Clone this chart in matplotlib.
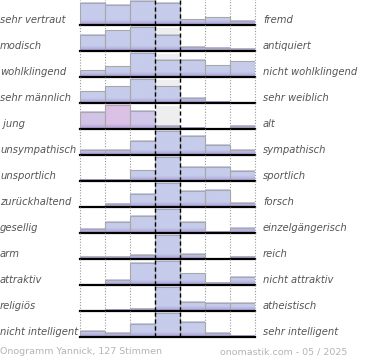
import numpy as np
import matplotlib.pyplot as plt
from matplotlib.patches import Rectangle
from matplotlib.transforms import blended_transform_factory
from matplotlib.colors import to_rgb

# onogram: 13 word pairs, 7 steps each
left_labels = ['sehr vertraut', 'modisch', 'wohlklingend', 'sehr männlich', ' jung',
               'unsympathisch', 'unsportlich', 'zurückhaltend', 'gesellig', 'arm',
               'attraktiv', 'religiös', 'nicht intelligent']
right_labels = ['fremd', 'antiquiert', 'nicht wohlklingend', 'sehr weiblich', 'alt',
                'sympathisch', 'sportlich', 'forsch', 'einzelgängerisch', 'reich',
                'nicht attraktiv', 'atheistisch', 'sehr intelligent']

# bar heights (max = 24)
values = [
    [21.7, 20.0, 24.0, 21.7, 5.5, 7.5, 4.0],
    [16.0, 20.5, 24.0, 16.0, 4.0, 3.0, 2.5],
    [6.6, 10.6, 24.0, 17.0, 17.0, 11.5, 15.6],
    [11.6, 16.6, 24.0, 16.6, 5.0, 1.0, 0.8],
    [17.3, 24.0, 18.3, 3.3, 1.0, 0.0, 3.3],
    [5.5, 5.0, 14.0, 24.0, 19.0, 10.5, 5.0],
    [1.3, 1.3, 10.7, 24.0, 14.0, 14.0, 10.0],
    [0.7, 3.3, 13.3, 24.0, 16.0, 16.7, 4.5],
    [4.3, 11.0, 16.7, 24.0, 11.0, 1.5, 5.3],
    [2.5, 2.5, 4.5, 24.0, 5.7, 0.3, 2.0],
    [0.3, 5.5, 21.7, 24.0, 11.7, 2.3, 8.3],
    [0.3, 1.7, 2.7, 24.0, 9.3, 8.0, 8.7],
    [6.6, 4.6, 13.0, 24.0, 15.0, 4.8, 1.7],
]
max_value = 24.0

# a few bars are drawn in a pink tint
tints = {4: {0: '#d2c4e6', 1: '#dcc1e6', 2: '#d0c7ea'}}

base_color = '#c6cceb'
bottom_color = '#a99bd2'
row_px = 26.0

fig = plt.figure(figsize=(3.7, 3.6), dpi=100)
gs = fig.add_gridspec(len(values), 1, left=80 / 370, right=255 / 370,
                      top=1 + 1 / 360, bottom=(360 - 337.5) / 360, hspace=0)

for i, row in enumerate(values):
    ax = fig.add_subplot(gs[i])
    heights = np.array(row) / max_value * 0.94

    ax.add_patch(Rectangle((3, 0), 1, 0.9, color='#eeeeee', lw=0, zorder=0))
    for x in [0, 1, 2, 5, 6, 7]:
        ax.axvline(x, color='#999999', lw=0.8, ls=(0, (1, 1.5)), zorder=0.5, clip_on=False)

    for j, h in enumerate(heights):
        if h <= 0:
            continue
        top = to_rgb(tints.get(i, {}).get(j, base_color))
        bot = to_rgb(bottom_color)
        ys = np.linspace(0, h * row_px, 40)
        t = np.clip(ys / 5.0, 0, 1)[:, None]
        grad = (np.array(bot) * (1 - t) + np.array(top) * t)[:, None, :]
        ax.imshow(grad, extent=[j, j + 1, 0, h], origin='lower', aspect='auto',
                  interpolation='bilinear', zorder=1)

    ax.bar(np.arange(7), heights, width=1, align='edge', fill=False,
           edgecolor='#a8a8a8', lw=0.8, zorder=2)

    for x in [3, 4]:
        ax.axvline(x, color='black', lw=1.0, ls=(0, (3, 2)), zorder=5, clip_on=False)
    ax.plot([0, 7], [0, 0], color='black', lw=1.6, zorder=6, clip_on=False)

    ax.set_xlim(0, 7)
    ax.set_ylim(0, 1)
    ax.axis('off')

    tr = blended_transform_factory(fig.transFigure, ax.transAxes)
    ax.text(0, 0.09, left_labels[i], transform=tr, ha='left', va='baseline',
            fontsize=7.2, style='italic', color='#555555')
    ax.text(263 / 370, 0.09, right_labels[i], transform=tr, ha='left', va='baseline',
            fontsize=7.2, style='italic', color='#555555')

fig.text(0, 1 - 352 / 360, 'Onogramm Yannick, 127 Stimmen', ha='left', va='center',
         fontsize=6.8, color='#b4b4b4')
fig.text(347 / 370, 1 - 352 / 360, 'onomastik.com - 05 / 2025', ha='right', va='center',
         fontsize=6.8, color='#b4b4b4')

fig.savefig('out.png', dpi=100)
